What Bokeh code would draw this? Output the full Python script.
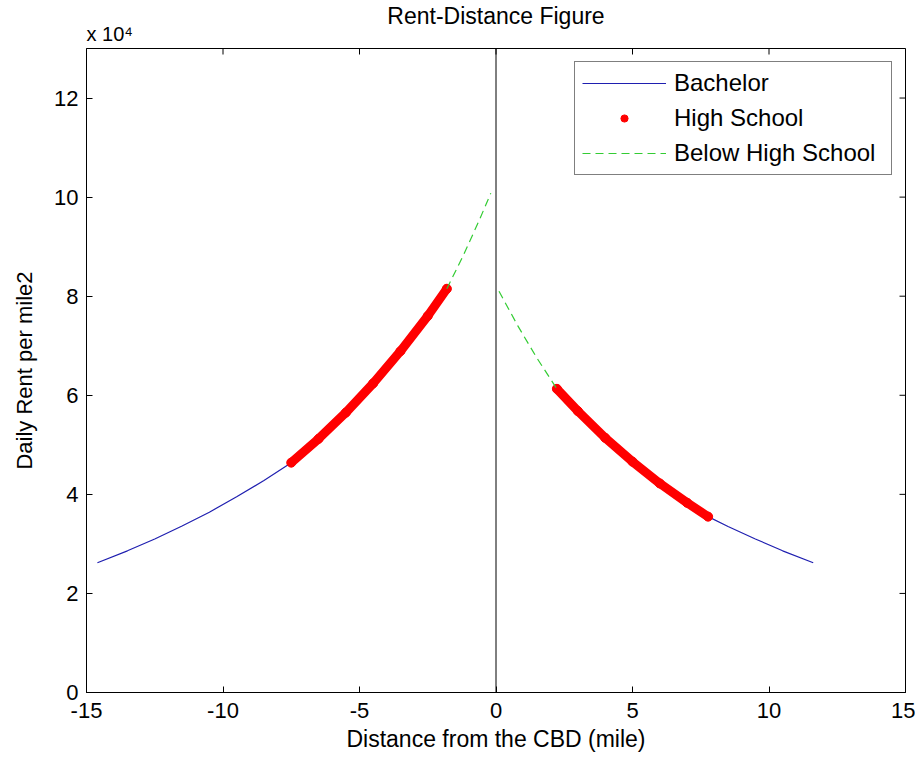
import math
from bokeh.plotting import figure
from bokeh.models import Span, FixedTicker, Legend, LegendItem, Range1d, Title
from bokeh.embed import file_html
from bokeh.resources import INLINE

# ---- data ----
bachelor_left_x = [-14.6, -13.5, -12.5, -11.5, -10.5, -9.5, -8.5, -7.5]
bachelor_left_y = [26200, 28600, 31000, 33600, 36400, 39500, 42800, 46400]
high_left_x = [-7.5, -6.5, -5.5, -4.5, -3.5, -2.5, -1.8]
high_left_y = [46400, 51200, 56500, 62400, 68900, 76000, 81500]
below_left_x = [-1.8, -1.2, -0.6, -0.19]
below_left_y = [81500, 88200, 95500, 100800]

below_right_x = [0.11, 0.8, 1.5, 2.23]
below_right_y = [81000, 74000, 67500, 61300]
high_right_x = [2.23, 3.0, 4.0, 5.0, 6.0, 7.0, 7.77]
high_right_y = [61300, 56800, 51400, 46600, 42200, 38300, 35500]
bachelor_right_x = [7.77, 8.5, 9.5, 10.5, 11.62]
bachelor_right_y = [35500, 33500, 31000, 28600, 26200]

x_ticks = [-15, -10, -5, 0, 5, 10, 15]
x_tick_labels = ["-15", "-10", "-5", "0", "5", "10", "15"]
y_ticks = [0, 20000, 40000, 60000, 80000, 100000, 120000]
y_tick_labels = ["0", "2", "4", "6", "8", "10", "12"]

X_MIN, X_MAX = -15, 15
Y_MIN, Y_MAX = 0, 130000

FONT = "Liberation Sans"

p = figure(width=915, height=758, output_backend="svg", toolbar_location=None, title=None,
           x_range=Range1d(X_MIN, X_MAX), y_range=Range1d(Y_MIN, Y_MAX),
           min_border_left=86, min_border_right=10, min_border_top=48, min_border_bottom=66)
p.background_fill_color = "white"
p.border_fill_color = "white"
p.outline_line_color = "black"
p.outline_line_width = 1
p.xgrid.visible = False
p.ygrid.visible = False

# "x 10^4" multiplier (closest to the frame), then the main title
p.add_layout(Title(text="x 10\u2074", align="left", text_font=FONT, text_font_size="20px",
                   text_font_style="normal", text_color="black", standoff=8), "above")
p.add_layout(Title(text="Rent-Distance Figure", align="center", text_font=FONT,
                   text_font_size="23px", text_font_style="normal", text_color="black",
                   standoff=-24), "above")

def style_axis(ax):
    ax.axis_line_color = "black"
    ax.major_tick_line_color = "black"
    ax.major_tick_in = 6
    ax.major_tick_out = 0
    ax.minor_tick_line_color = None
    ax.major_label_text_font = FONT
    ax.major_label_text_color = "black"
    ax.major_label_text_font_size = "22px"
    ax.axis_label_text_font = FONT
    ax.axis_label_text_font_style = "normal"
    ax.axis_label_text_color = "black"

xa = p.xaxis[0]
xa.ticker = FixedTicker(ticks=x_ticks)
xa.major_label_overrides = {t: s for t, s in zip(x_ticks, x_tick_labels)}
xa.axis_label = "Distance from the CBD (mile)"
xa.major_label_standoff = 10
xa.axis_label_standoff = 5
style_axis(xa)
xa.axis_label_text_font_size = "23px"

ya = p.yaxis[0]
ya.ticker = FixedTicker(ticks=y_ticks)
ya.major_label_overrides = {t: s for t, s in zip(y_ticks, y_tick_labels)}
ya.axis_label = "Daily Rent per mile2"
ya.major_label_standoff = 8
ya.axis_label_standoff = 14
style_axis(ya)
ya.axis_label_text_font_size = "22px"

# inward ticks on the top and right sides of the box (half of each dash is clipped by the frame)
p.scatter(x=x_ticks, y=[Y_MAX] * len(x_ticks), marker="dash", angle=math.pi / 2,
          size=12, line_color="black", line_width=1)
p.scatter(x=[X_MAX] * len(y_ticks), y=y_ticks, marker="dash",
          size=12, line_color="black", line_width=1)

p.add_layout(Span(location=0, dimension="height", line_color="black", line_width=1))

blue = p.multi_line(xs=[bachelor_left_x, bachelor_right_x], ys=[bachelor_left_y, bachelor_right_y],
                    line_color="#1f1fb0", line_width=1.2)
red_line = p.multi_line(xs=[high_left_x, high_right_x], ys=[high_left_y, high_right_y],
                        line_color="#ff0000", line_width=9, line_cap="round")
red_pts = p.scatter(x=high_left_x + high_right_x, y=high_left_y + high_right_y,
                    marker="circle", size=9, fill_color="#ff0000", line_color="#ff0000")
green = p.multi_line(xs=[below_left_x, below_right_x], ys=[below_left_y, below_right_y],
                     line_color="#33cc33", line_width=1.2, line_dash="8 5")

legend = Legend(items=[
    LegendItem(label="Bachelor", renderers=[blue]),
    LegendItem(label="High School", renderers=[red_pts]),
    LegendItem(label="Below High School", renderers=[green]),
], location="top_right")
legend.margin = 13
legend.padding = 7
legend.spacing = 7
legend.glyph_width = 84
legend.glyph_height = 18
legend.label_height = 28
legend.label_width = 210
legend.label_standoff = 8
legend.label_text_font = FONT
legend.label_text_font_size = "24px"
legend.label_text_color = "black"
legend.border_line_color = "black"
legend.border_line_width = 1
legend.background_fill_color = "white"
legend.background_fill_alpha = 1.0
p.add_layout(legend)

open("out.html", "w").write(file_html(p, INLINE))
